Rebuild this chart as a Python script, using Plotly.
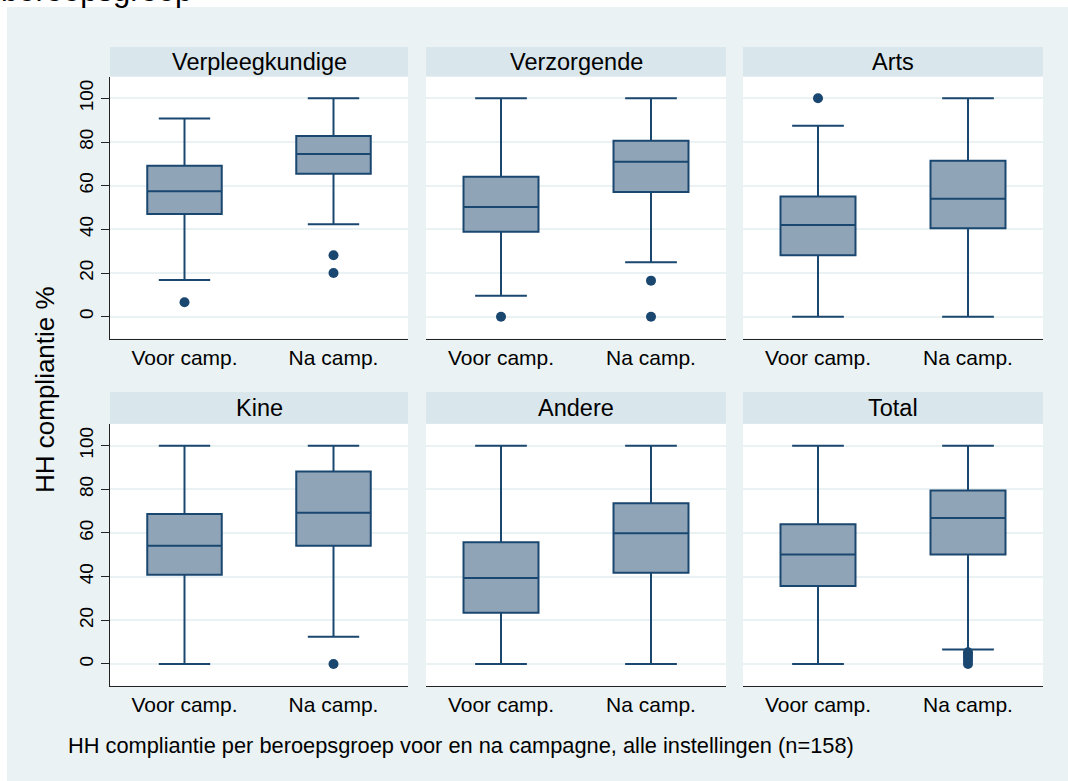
import plotly.graph_objects as go
from plotly.subplots import make_subplots

# ---------------- data ----------------
panels = ["Verpleegkundige", "Verzorgende", "Arts", "Kine", "Andere", "Total"]
periods = ["Voor camp.", "Na camp."]
period_pos = [1, 2]

# per panel: [Voor camp., Na camp.]
lower_whisker = [[16.8, 42.3], [9.6, 24.9], [0.0, 0.0], [0.0, 12.5], [0.0, 0.0], [0.0, 6.6]]
q1_vals       = [[47.0, 65.5], [38.9, 57.1], [28.1, 40.5], [40.9, 54.1], [23.5, 41.8], [35.7, 50.1]]
median_vals   = [[57.4, 74.5], [50.2, 71.0], [42.0, 54.0], [54.1, 69.3], [39.4, 59.9], [50.1, 66.9]]
q3_vals       = [[69.1, 82.7], [64.1, 80.6], [55.0, 71.4], [68.7, 88.1], [55.7, 73.6], [64.0, 79.4]]
upper_whisker = [[90.8, 100.0], [100.0, 100.0], [87.5, 100.0], [100.0, 100.0], [100.0, 100.0], [100.0, 100.0]]
outliers = [
    [[6.6], [28.1, 20.0]],
    [[0.0], [16.5, 0.0]],
    [[100.0], []],
    [[], [0.0]],
    [[], []],
    [[], [5.4, 4.2, 3.0, 1.5, 0.0]],
]
y_ticks = [0, 20, 40, 60, 80, 100]

y_title = "HH compliantie %"
note = "HH compliantie per beroepsgroep voor en na campagne, alle instellingen (n=158)"
top_title = "beroepsgroep"

# ---------------- style ----------------
FONT = "Liberation Sans, Arial, Helvetica, sans-serif"
LINE = "#1A476F"
FILL = "#90A4B8"
OUTER_BG = "#EAF2F3"
STRIP_BG = "#D9E6EB"
GRID = "#EAF2F3"
AXIS = "#222222"

W, H = 1068, 781
ML, MR, MT, MB = 110, 25, 47, 95
PW, PH = W - ML - MR, H - MT - MB

def px_x(p):
    return (p - ML) / PW

def px_y(p):
    return (H - MB - p) / PH

x_dom = [(px_x(110), px_x(408)), (px_x(426), px_x(726)), (px_x(743), px_x(1043))]
y_dom = [(px_y(338.5), px_y(76.5)), (px_y(685.8), px_y(423.8))]
strip_top = [px_y(47), px_y(392)]

fig = make_subplots(rows=2, cols=3)

for i, name in enumerate(panels):
    r, c = i // 3 + 1, i % 3 + 1
    fig.add_trace(
        go.Box(
            x=period_pos,
            q1=q1_vals[i], median=median_vals[i], q3=q3_vals[i],
            lowerfence=lower_whisker[i], upperfence=upper_whisker[i],
            width=0.5, whiskerwidth=0.69,
            fillcolor=FILL, line=dict(color=LINE, width=2),
            boxpoints=False, showlegend=False,
        ),
        row=r, col=c,
    )
    ox, oy = [], []
    for k, pos in enumerate(period_pos):
        for v in outliers[i][k]:
            ox.append(pos)
            oy.append(v)
    if ox:
        fig.add_trace(
            go.Scatter(x=ox, y=oy, mode="markers",
                       marker=dict(size=10, color=LINE), showlegend=False),
            row=r, col=c,
        )

shapes = []
annotations = []
for i, name in enumerate(panels):
    r, c = i // 3, i % 3
    idx = "" if i == 0 else str(i + 1)
    fig.layout["xaxis" + idx].update(
        domain=list(x_dom[c]), range=[0.5, 2.5],
        tickvals=period_pos, ticktext=periods, ticks="",
        tickfont=dict(size=21, color="black", family=FONT),
        showline=True, linecolor=AXIS, linewidth=1.3,
        showgrid=False, zeroline=False, fixedrange=True,
    )
    fig.layout["yaxis" + idx].update(
        domain=list(y_dom[r]), range=[-10, 110],
        tickvals=y_ticks, showgrid=True, gridcolor=GRID, gridwidth=1.5,
        zeroline=False, fixedrange=True,
        showline=(c == 0), linecolor=AXIS, linewidth=1,
        ticks="outside" if c == 0 else "", ticklen=8, tickwidth=1, tickcolor=AXIS,
        showticklabels=(c == 0), tickangle=-90,
        tickfont=dict(size=19, color="black", family=FONT),
    )
    # strip header
    shapes.append(dict(type="rect", xref="paper", yref="paper",
                       x0=x_dom[c][0], x1=x_dom[c][1],
                       y0=y_dom[r][1], y1=strip_top[r],
                       fillcolor=STRIP_BG, line=dict(width=0), layer="below"))
    annotations.append(dict(text=name, xref="paper", yref="paper",
                            x=(x_dom[c][0] + x_dom[c][1]) / 2,
                            y=(y_dom[r][1] + strip_top[r]) / 2,
                            xanchor="center", yanchor="middle", showarrow=False,
                            font=dict(size=23.5, color="black", family=FONT)))

# white edges outside the outer graph region
shapes.append(dict(type="rect", xref="paper", yref="paper",
                   x0=px_x(-5), x1=px_x(W + 5), y0=px_y(7), y1=px_y(-5),
                   fillcolor="white", line=dict(width=0), layer="below"))
shapes.append(dict(type="rect", xref="paper", yref="paper",
                   x0=px_x(-5), x1=px_x(7), y0=px_y(H + 5), y1=px_y(-5),
                   fillcolor="white", line=dict(width=0), layer="below"))

annotations.append(dict(text=y_title, xref="paper", yref="paper",
                        x=px_x(45), y=px_y(390), textangle=-90,
                        xanchor="center", yanchor="middle", showarrow=False,
                        font=dict(size=26, color="black", family=FONT)))
annotations.append(dict(text=note, xref="paper", yref="paper",
                        x=px_x(66), y=px_y(745),
                        xanchor="left", yanchor="middle", showarrow=False,
                        font=dict(size=21.8, color="black", family=FONT)))
annotations.append(dict(text=top_title, xref="paper", yref="paper",
                        x=px_x(0), y=px_y(-10), borderpad=0,
                        xanchor="left", yanchor="middle", showarrow=False,
                        font=dict(size=31, color="black", family=FONT)))

fig.update_layout(
    width=W, height=H,
    margin=dict(l=ML, r=MR, t=MT, b=MB),
    paper_bgcolor=OUTER_BG, plot_bgcolor="white",
    font=dict(family=FONT, color="black"),
    shapes=shapes, annotations=annotations,
    showlegend=False, boxmode="overlay",
)

fig.write_html("out.html",
               config={"displayModeBar": False},
               post_script="document.body.style.margin='0';document.body.style.overflow='hidden';")
